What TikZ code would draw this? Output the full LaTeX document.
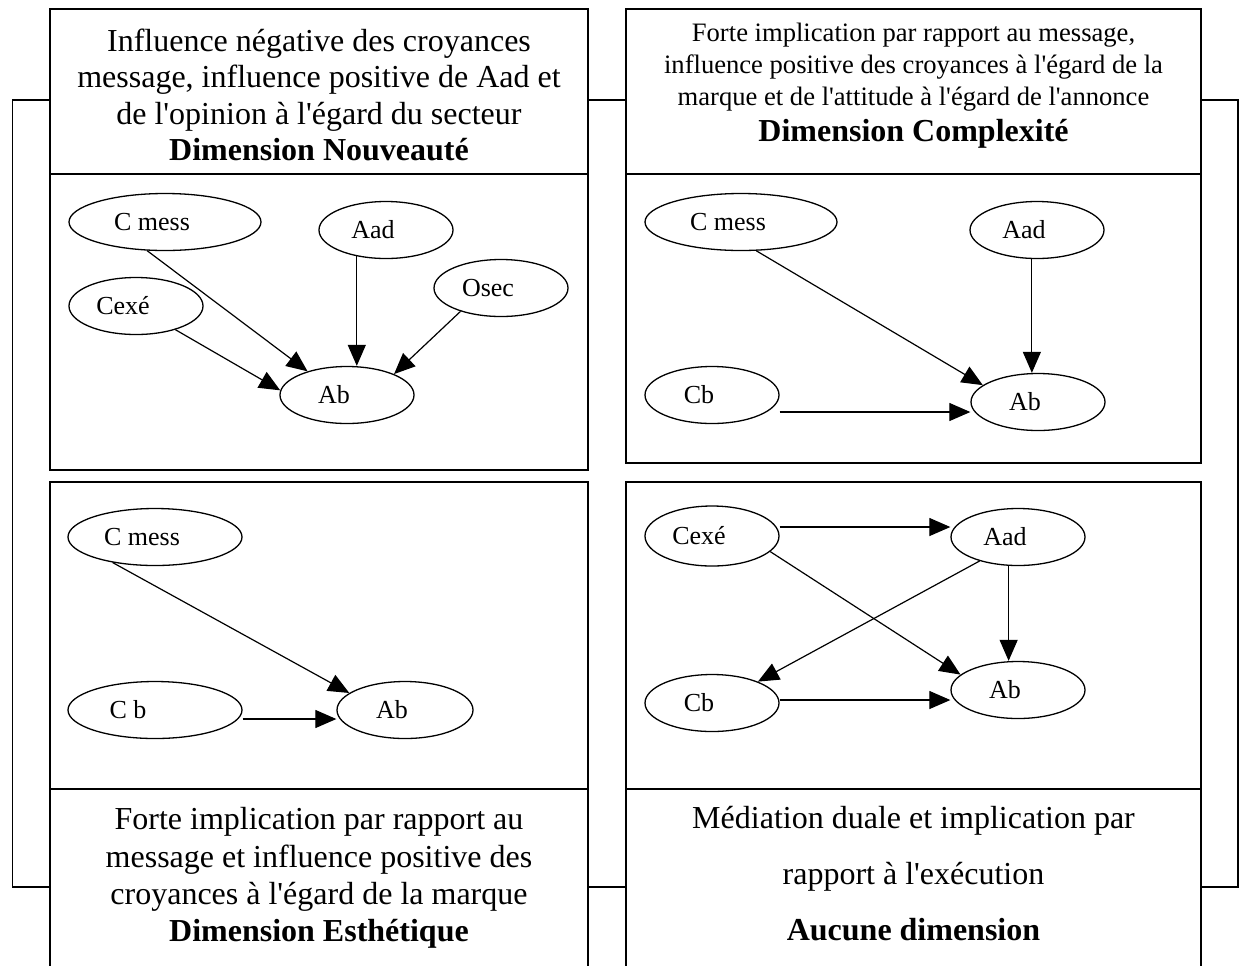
\documentclass[tikz,border=0pt]{standalone}
\usepackage{fontspec}
\setmainfont{Liberation Serif}[Ligatures=TeXOff]
\usetikzlibrary{arrows.meta,shapes.geometric,fit}
\tikzset{
  frm/.style   = {rectangle, draw, line width=0.75pt, inner sep=0pt},
  ell/.style   = {ellipse, draw, line width=0.65pt, inner sep=0pt, minimum width=67pt,
                  minimum height=28.5pt, font=\fontsize{13}{15}\selectfont,
                  execute at end node={\kern 13pt}},
  wide/.style  = {ell, minimum width=96pt},
  arr/.style   = {-{Triangle[length=10.5pt,width=9pt]}, line width=0.6pt},
  ttl/.style   = {align=center, font=\fontsize{16}{18.3}\selectfont},
  ln/.style    = {line width=0.75pt},
}
\begin{document}
\begin{tikzpicture}[x=0.5pt,y=-0.5pt]
\clip (0,0) rectangle (1242,965);
% frames
\node[frm, fit={(50,9) (588,174)}] (hdrA) {};
\node[frm, fit={(50,174) (588,470)}] (dgmA) {};
\node[frm, fit={(626,9) (1201,174)}] (hdrB) {};
\node[frm, fit={(626,174) (1201,463)}] (dgmB) {};
\node[frm, fit={(50,482) (588,789)}] (dgmC) {};
\node[frm, fit={(50,789) (588,990)}] (ftrC) {};
\node[frm, fit={(626,482) (1201,789)}] (dgmD) {};
\node[frm, fit={(626,789) (1201,990)}] (ftrD) {};
% brackets
\coordinate (brTop) at (0,100);
\coordinate (brBot) at (0,887);
\draw[ln] (hdrA.west |- brTop) -- ++(-37,0) |- (ftrC.west |- brBot);
\draw[ln] (hdrA.east |- brTop) -- (hdrB.west |- brTop);
\draw[ln] (ftrC.east |- brBot) -- (ftrD.west |- brBot);
\draw[ln] (hdrB.east |- brTop) -- ++(36,0) |- (ftrD.east |- brBot);
% texts
\node[ttl] (txtA) at (319,95) {Influence négative des croyances\\message, influence positive de Aad et\\de l'opinion à l'égard du secteur\\\textbf{Dimension Nouveauté}};
\node[ttl, font=\fontsize{13.3}{16}\selectfont] (txtB) at (913.5,67) {Forte implication par rapport au message,\\influence positive des croyances à l'égard de la\\marque et de l'attitude à l'égard de l'annonce};
\node[ttl] (dimB) at (913.5,134) {\textbf{Dimension Complexité}};
\node[ttl, font=\fontsize{16}{18.6}\selectfont] (txtC) at (319,878) {Forte implication par rapport au\\message et influence positive des\\croyances à l'égard de la marque\\\textbf{Dimension Esthétique}};
\node[ttl, font=\fontsize{16}{28}\selectfont] (txtD) at (913.5,874) {Médiation duale et implication par\\rapport à l'exécution\\\textbf{Aucune dimension}};
% Nouveaute
\node[wide] (cmessA) at (165,222) {C mess};
\node[ell] (aadA) at (386,230) {Aad};
\node[ell] (osecA) at (501,288) {Osec};
\node[ell] (cexeA) at (136,306) {Cexé};
\node[ell] (abA) at (347,395) {Ab};
\draw[arr] (cmessA.238) -- (abA.149);
\draw[arr] (cexeA.329) -- (abA.176);
\draw[arr] (aadA.222) -- (aadA.222 |- abA.north);
\draw[arr] (osecA.210) -- (abA.24);
% Complexite
\node[wide] (cmessB) at (741,222) {C mess};
\node[ell] (aadB) at (1037,230) {Aad};
\node[ell] (cbB) at (712,395) {Cb};
\node[ell] (abB) at (1038,402) {Ab};
\draw[arr] (cmessB.298) -- (abB.163);
\draw[arr] (aadB.260) -- (aadB.260 |- abB.north);
\draw[arr] ([yshift=-8.5pt]cbB.east) -- ([yshift=-5pt]abB.west);
% Esthetique
\node[wide, minimum width=87pt] (cmessC) at (155,537) {C mess};
\node[wide, minimum width=87pt] (cbC) at (155,710) {C b\kern 14pt};
\node[ell, minimum width=68pt] (abC) at (405,710) {Ab};
\draw[arr] (cmessC.211) -- (abC.163);
\draw[arr] ([yshift=-4.5pt]cbC.east) -- ([yshift=-4.5pt]abC.west);
% aucune dimension
\node[ell, minimum height=30pt] (cexeD) at (712,536) {Cexé};
\node[ell] (aadD) at (1018,537) {Aad};
\node[ell] (cbD) at (712,703) {Cb};
\node[ell] (abD) at (1018,690) {Ab};
\draw[arr] ([yshift=4.5pt]cexeD.east) -- ([yshift=5pt]aadD.west);
\draw[arr] (cexeD.345) -- (abD.165);
\draw[arr] (aadD.212) -- (cbD.25);
\draw[arr] (aadD.252) -- (aadD.252 |- abD.north);
\draw[arr] ([yshift=1.5pt]cbD.east) -- ([yshift=-5pt]abD.west);
\end{tikzpicture}
\end{document}
